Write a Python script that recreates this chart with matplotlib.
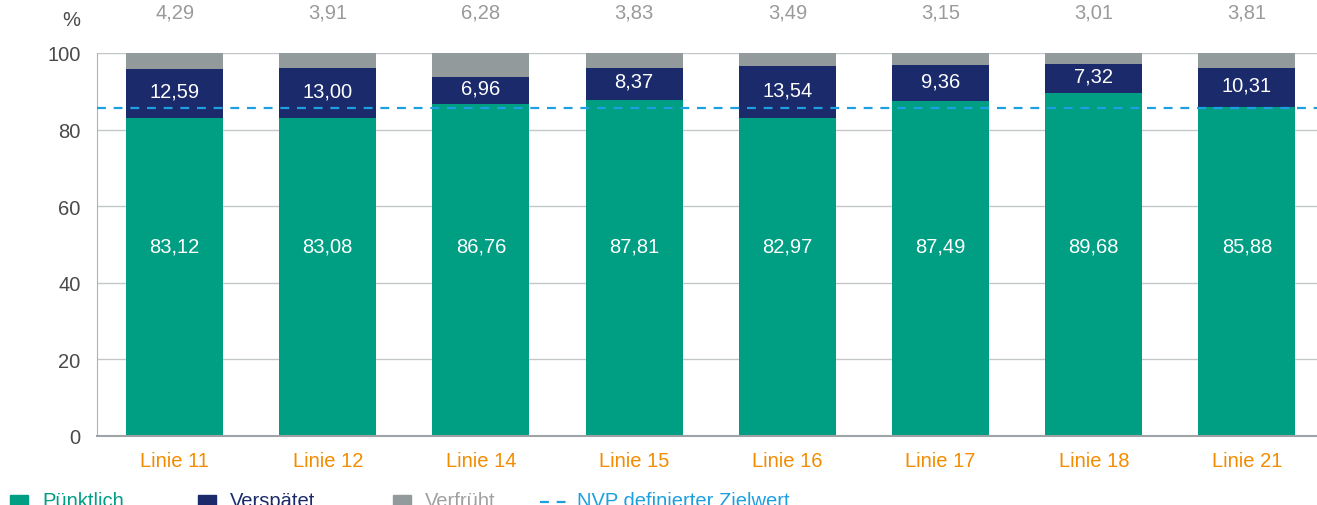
import matplotlib
matplotlib.use("Agg")
import matplotlib.pyplot as plt
from matplotlib.patches import Rectangle
from matplotlib.lines import Line2D

plt.rcParams["font.family"] = ["Liberation Sans", "DejaVu Sans"]

linien = ["Linie 11", "Linie 12", "Linie 14", "Linie 15",
          "Linie 16", "Linie 17", "Linie 18", "Linie 21"]
puenktlich = [83.12, 83.08, 86.76, 87.81, 82.97, 87.49, 89.68, 85.88]
verspaetet = [12.59, 13.00, 6.96, 8.37, 13.54, 9.36, 7.32, 10.31]
verfrueht = [4.29, 3.91, 6.28, 3.83, 3.49, 3.15, 3.01, 3.81]
zielwert = 85.6

GREEN = "#009e82"
NAVY = "#1b2a6b"
GREY = "#939a9c"
BLUE = "#1ea0e0"
ORANGE = "#f28c00"
FS = 14.5


def fmt(v):
    return f"{v:.2f}".replace(".", ",")


fig = plt.figure(figsize=(13.17, 5.06), dpi=100)
ax = fig.add_axes([0.0737, 0.1364, 0.9263, 0.7569])

x = list(range(len(linien)))
w = 0.633
bottom2 = [p + v for p, v in zip(puenktlich, verspaetet)]
ax.bar(x, puenktlich, w, color=GREEN, zorder=2)
ax.bar(x, verspaetet, w, bottom=puenktlich, color=NAVY, zorder=2)
ax.bar(x, verfrueht, w, bottom=bottom2, color=GREY, zorder=2)
ax.axhline(zielwert, color=BLUE, lw=1.6, ls=(0, (4, 3.5)), zorder=3)

for i in x:
    ax.text(i, 49.5, fmt(puenktlich[i]), color="white", fontsize=FS,
            ha="center", va="center", zorder=4)
    ax.text(i, puenktlich[i] + verspaetet[i] / 2 + 0.6, fmt(verspaetet[i]),
            color="white", fontsize=FS, ha="center", va="center", zorder=4)
    ax.text(i, 110.8, fmt(verfrueht[i]), color="#9a9a9a", fontsize=FS,
            ha="center", va="center", clip_on=False)

ax.set_xlim(-0.506, 7.457)
ax.set_ylim(0, 100)
ax.set_yticks([0, 20, 40, 60, 80, 100])
ax.set_xticks(x)
ax.set_xticklabels(linien)
ax.tick_params(axis="y", length=0, pad=12, labelsize=FS, labelcolor="#4a4a4a")
ax.tick_params(axis="x", length=0, pad=11, labelsize=FS, labelcolor=ORANGE)
ax.yaxis.grid(True, color="#c4c7c9", lw=1, zorder=0)
ax.set_axisbelow(True)
for s in ["top", "right"]:
    ax.spines[s].set_visible(False)
ax.spines["left"].set_color("#b0b3b5")
ax.spines["bottom"].set_color("#a0a3a5")
ax.spines["bottom"].set_linewidth(1.5)

fig.text(0.047, 1 - 20 / 506, "%", fontsize=FS, color="#4a4a4a",
         ha="left", va="center")

# legend at the bottom (partly cut off, as in the original)
W, H = 1317, 506
items = [(10, GREEN, "Pünktlich", GREEN, 42),
         (198, NAVY, "Verspätet", NAVY, 230),
         (393, GREY, "Verfrüht", "#a0a0a0", 425)]
for px, c, lab, tc, tx in items:
    fig.add_artist(Rectangle((px / W, 1 - 514 / H), 18 / W, 18 / H,
                             color=c, transform=fig.transFigure))
    fig.text(tx / W, 1 - 507 / H, lab, color=tc, fontsize=FS,
             ha="left", va="baseline")
fig.add_artist(Line2D([540 / W, 566 / W], [1 - 503 / H, 1 - 503 / H],
                      color=BLUE, lw=1.6, ls=(0, (4, 3.5)),
                      transform=fig.transFigure))
fig.text(577 / W, 1 - 507 / H, "NVP definierter Zielwert", color=BLUE,
         fontsize=FS, ha="left", va="baseline")

fig.savefig("out.png", dpi=100)
